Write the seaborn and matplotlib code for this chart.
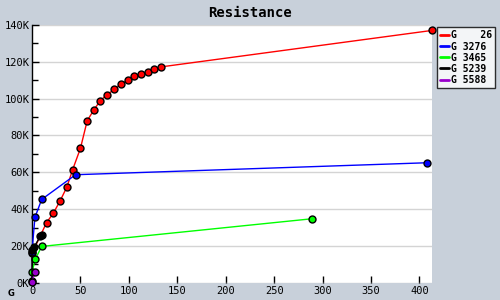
import matplotlib
matplotlib.use("Agg")
import matplotlib.pyplot as plt
import seaborn as sns
import pandas as pd
from matplotlib.ticker import MultipleLocator, FuncFormatter

# ---- data (x in units, y in thousands) ----
series_names = ["G    26", "G 3276", "G 3465", "G 5239", "G 5588"]
colors = ["#ff0000", "#0000ff", "#00ff00", "#000000", "#9900cc"]

red_x = [0, 15, 22, 29, 36, 42, 50, 57, 64, 70, 77, 85, 92, 99, 105, 113, 120, 126, 133, 413]
red_y = [16, 32.7, 37.8, 44.5, 52, 61.5, 73, 88, 94, 98.5, 102, 105, 108, 110, 112, 113.5, 114.5, 116, 117.2, 137]

blue_x = [0, 3, 10, 45, 408]
blue_y = [17, 35.5, 45.3, 58.7, 65.2]

green_x = [0, 3.5, 10, 289]
green_y = [6, 13, 19.8, 34.8]

black_x = [0, 0, 2.5, 8.5, 10.5]
black_y = [1, 18, 19.7, 25.3, 26.2]

purple_x = [0, 3]
purple_y = [0.5, 6]

xs = [red_x, blue_x, green_x, black_x, purple_x]
ys = [red_y, blue_y, green_y, black_y, purple_y]

rows = []
for name, sx, sy in zip(series_names, xs, ys):
    for i, (a, b) in enumerate(zip(sx, sy)):
        rows.append({"series": name, "x": a, "y": b * 1000, "order": i})
df = pd.DataFrame(rows)

sns.set_theme(style="white")
plt.rcParams["font.family"] = ["DejaVu Sans Mono", "DejaVu Sans"]
plt.rcParams["text.color"] = "black"

bg = "#c8d0da"
fig = plt.figure(figsize=(5, 3), dpi=100, facecolor=bg)
ax = fig.add_axes([0.064, 0.057, 0.80, 0.86])
ax.set_facecolor("white")

for name, col in zip(series_names, colors):
    sub = df[df["series"] == name]
    sns.lineplot(data=sub, x="x", y="y", sort=False, estimator=None, ax=ax,
                 color=col, linewidth=1.0, marker="o", markersize=5,
                 markeredgecolor="black", markeredgewidth=1.0,
                 markerfacecolor=col, label=name, clip_on=False, zorder=3)

ax.set_xlim(0, 413)
ax.set_ylim(0, 140000)
ax.xaxis.set_major_locator(MultipleLocator(50))
ax.yaxis.set_major_locator(MultipleLocator(20000))
ax.yaxis.set_minor_locator(MultipleLocator(10000))
ax.yaxis.set_major_formatter(FuncFormatter(lambda v, p: f"{v/1000:.0f}K"))
ax.grid(axis="y", which="major", color="#d4d4d4", linewidth=1.0)
ax.set_axisbelow(True)
ax.tick_params(axis="both", which="both", direction="in", labelsize=7.5,
               colors="black", labelcolor="black", pad=2)
ax.tick_params(axis="y", which="major", length=5, width=1, left=True)
ax.tick_params(axis="y", which="minor", length=4, width=1, left=True)
ax.tick_params(axis="x", which="major", length=5, width=1, bottom=True)
for s in ["top", "right", "bottom"]:
    ax.spines[s].set_visible(False)
ax.spines["left"].set_color("black")
ax.spines["left"].set_linewidth(1.0)
ax.set_xlabel("")
ax.set_ylabel("")

fig.text(0.5, 0.958, "Resistance", ha="center", va="center", fontsize=10,
         fontweight="bold", family="DejaVu Sans Mono", color="black")

leg = ax.legend(loc="upper left", bbox_to_anchor=(1.012, 0.99), frameon=True,
                fancybox=False, edgecolor="black", fontsize=7,
                handlelength=1.0, handletextpad=0.2, borderpad=0.3,
                labelspacing=0.12, borderaxespad=0)
leg.get_frame().set_linewidth(1.0)
for h in leg.legend_handles:
    h.set_marker("")
    h.set_linewidth(2)
for t in leg.get_texts():
    t.set_fontweight("bold")
    t.set_color("black")

fig.text(0.022, 0.022, "G", fontsize=6, fontweight="bold", ha="center", va="center",
         family="DejaVu Sans", color="black")

fig.savefig("out.png", dpi=100, facecolor=bg)
